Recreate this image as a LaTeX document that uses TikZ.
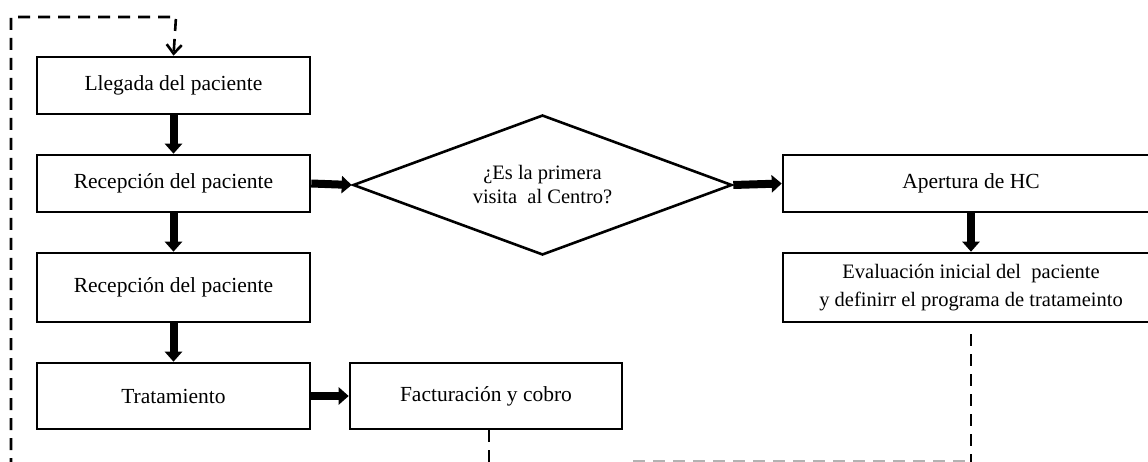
\documentclass[tikz,border=0pt]{standalone}
\usepackage{fontspec}
\setmainfont{Liberation Serif}
\usetikzlibrary{arrows.meta,shapes.geometric}

\tikzset{
  stepbox/.style={draw, line width=2.6pt, rectangle, inner sep=0pt,
    align=center, font=\fontsize{21.5}{28}\selectfont},
  twoline/.style={font=\fontsize{20.5}{28}\selectfont},
  decision/.style={draw, line width=2.6pt, diamond, inner sep=0pt, aspect=2.7,
    minimum width=379pt, minimum height=140pt, align=center,
    font=\fontsize{20.5}{24}\selectfont},
  flow/.style={line width=8pt, -{Triangle[length=10pt,width=17pt]}},
  loopline/.style={line width=2.6pt, dash pattern=on 12pt off 8pt},
}

\begin{document}
\begin{tikzpicture}[x=1pt,y=-1pt]
  \useasboundingbox (0,0) rectangle (1148,462);
  \clip (0,0) rectangle (1148,462);

  % main column
  \node[stepbox, minimum width=273pt, minimum height=57pt] (llegada) at (173.5,85.5) {Llegada del paciente};
  \node[stepbox, minimum width=273pt, minimum height=57pt] (recepcion) at (173.5,183.5) {Recepción del paciente};
  \node[stepbox, minimum width=273pt, minimum height=69pt] (recepcionb) at (173.5,287.5) {Recepción del paciente};
  \node[stepbox, minimum width=273pt, minimum height=66pt] (tratamiento) at (173.5,396) {Tratamiento};
  \node[stepbox, minimum width=272pt, minimum height=66pt] (facturacion) at (486,396) {Facturación y cobro};

  % decision and first-visit branch
  \node[decision] (primera) at (542.5,185) {¿Es la primera\\visita~~al Centro?};
  \node[stepbox, minimum width=376pt, minimum height=57pt] (apertura) at (971,183.5) {Apertura de HC};
  \node[stepbox, twoline, minimum width=376pt, minimum height=69pt] (evaluacion) at (971,287.5) {Evaluación inicial del~~paciente\\y definirr el programa de tratameinto};

  % solid flow arrows
  \draw[flow] (llegada.south) -- (recepcion.north);
  \draw[flow] (recepcion.south) -- (recepcionb.north);
  \draw[flow] (recepcionb.south) -- (tratamiento.north);
  \draw[flow] (tratamiento.east) -- (facturacion.west);
  \draw[flow] (recepcion.east) -- (primera.west);
  \draw[flow] (primera.east) -- (apertura.west);
  \draw[flow] (apertura.south) -- (evaluacion.north);

  % dashed return paths
  \coordinate (loopfoot) at (11,470);
  \coordinate (loopcorner) at (11,17);
  \coordinate (looptop) at (176,17);
  \draw[loopline, -{Straight Barb[length=9pt,width=15pt]}]
    (loopfoot) -- (loopcorner) -- (looptop) -- (llegada.north);

  \coordinate (factfoot) at (489,470);
  \draw[loopline] (facturacion.south -| factfoot) -- (factfoot);

  \coordinate (evalfoot) at (971,470);
  \draw[loopline] ([yshift=-11pt]evaluacion.south) -- (evalfoot);

  \coordinate (joinleft) at (633,461);
  \coordinate (joinright) at (971,461);
  \draw[line width=1.5pt, gray!60, dash pattern=on 12pt off 8pt] (joinleft) -- (joinright);
\end{tikzpicture}
\end{document}
